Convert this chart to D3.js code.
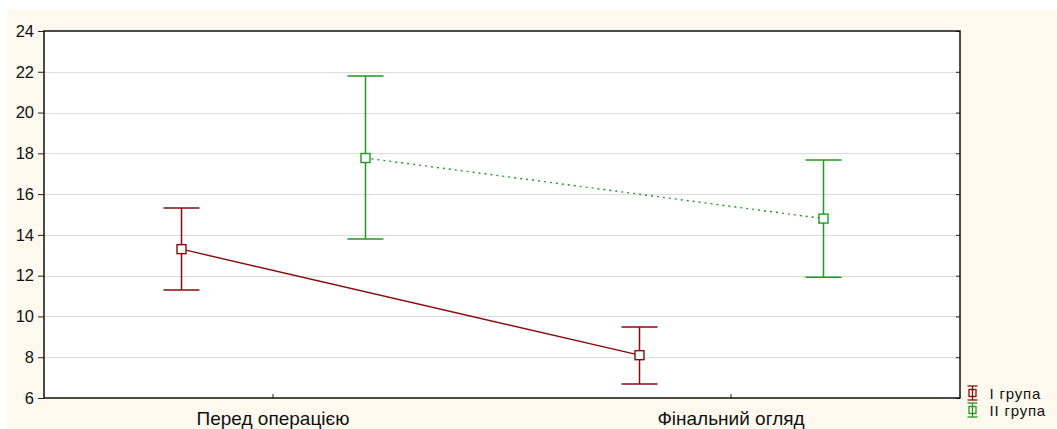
<!DOCTYPE html>
<html><head><meta charset="utf-8">
<script src="https://cdn.jsdelivr.net/npm/d3@7"></script>
<style>body{margin:0;background:#fff}svg{display:block}text{font-family:"Liberation Sans",Arial,sans-serif;fill:#111}</style>
</head><body>
<script>
const categories = ["Перед операцією", "Фінальний огляд"];
const groups = ["I група", "II група"];
const groupColors = ["#8b0a0a", "#1f9a1f"];
const means = [[13.3, 8.1], [17.77, 14.8]];
const upper = [[15.32, 9.48], [21.79, 17.67]];
const lower = [[11.3, 6.69], [13.8, 11.92]];
const yTicks = [6, 8, 10, 12, 14, 16, 18, 20, 22, 24];

const W = 1057, H = 429;
const svg = d3.select("body").append("svg").attr("width", W).attr("height", H);
svg.append("rect").attr("x", 7).attr("y", 10).attr("width", W - 7).attr("height", H - 10).attr("fill", "#fdf9ee");

const L = 44, R = 960, T = 31, B = 398;
svg.append("rect").attr("x", L).attr("y", T).attr("width", R - L).attr("height", B - T).attr("fill", "#fff");

const y = d3.scaleLinear().domain([6, 24]).range([B, T]);
const x = d3.scaleBand().domain(categories).range([L, R]);
const xg = d3.scalePoint().domain(groups).range([x.bandwidth() / 2 - 92, x.bandwidth() / 2 + 92]);

// grid
svg.append("g").selectAll("line").data(yTicks.slice(1, -1)).join("line")
  .attr("x1", L).attr("x2", R).attr("y1", d => Math.round(y(d)) + 0.5).attr("y2", d => Math.round(y(d)) + 0.5)
  .attr("stroke", "#dcdcdc").attr("stroke-width", 1);

// axes
const yAxis = d3.axisLeft(y).tickValues(yTicks).tickSize(6).tickPadding(4);
const gy = svg.append("g").attr("transform", `translate(${L},0)`).call(yAxis);
gy.select(".domain").remove();
gy.selectAll("text").style("font-size", "16.5px").attr("fill", "#111");
gy.selectAll("line").attr("stroke", "#222");
const gyr = svg.append("g").attr("transform", `translate(${R},0)`).call(d3.axisRight(y).tickValues(yTicks).tickSize(-4).tickFormat(""));
gyr.select(".domain").remove();
gyr.selectAll("line").attr("stroke", "#222");

const xAxis = d3.axisBottom(x).tickSize(-4).tickPadding(14);
const gx = svg.append("g").attr("transform", `translate(0,${B})`).call(xAxis);
gx.select(".domain").remove();
gx.selectAll("line").attr("stroke", "#222");
gx.selectAll("text").style("font-size", "19px").attr("fill", "#111");

svg.append("rect").attr("x", L).attr("y", T).attr("width", R - L).attr("height", B - T)
  .attr("fill", "none").attr("stroke", "#111").attr("stroke-width", 1.5);

// series
groups.forEach((g, gi) => {
  const col = groupColors[gi];
  const px = c => Math.round(x(c) + xg(g)) + 0.5;
  const pts = categories.map((c, ci) => ({c, m: means[gi][ci], u: upper[gi][ci], l: lower[gi][ci]}));
  const line = d3.line().x(d => px(d.c)).y(d => y(d.m));
  svg.append("path").datum(pts).attr("d", line).attr("fill", "none").attr("stroke", col)
    .attr("stroke-width", 1.4).attr("stroke-dasharray", gi === 0 ? null : "2,4");
  const eg = svg.append("g").selectAll("g").data(pts).join("g");
  eg.append("line").attr("x1", d => px(d.c)).attr("x2", d => px(d.c)).attr("y1", d => y(d.u)).attr("y2", d => y(d.l)).attr("stroke", col).attr("stroke-width", 1.5);
  eg.append("line").attr("x1", d => px(d.c) - 18).attr("x2", d => px(d.c) + 18).attr("y1", d => y(d.u)).attr("y2", d => y(d.u)).attr("stroke", col).attr("stroke-width", 1.5);
  eg.append("line").attr("x1", d => px(d.c) - 18).attr("x2", d => px(d.c) + 18).attr("y1", d => y(d.l)).attr("y2", d => y(d.l)).attr("stroke", col).attr("stroke-width", 1.5);
  eg.append("rect").attr("x", d => px(d.c) - 4.5).attr("y", d => y(d.m) - 4.5).attr("width", 9).attr("height", 9)
    .attr("fill", "#fff").attr("stroke", col).attr("stroke-width", 1.4);
});

// legend
const lg = svg.append("g").attr("transform", "translate(972.5,393)");
groups.forEach((g, gi) => {
  const col = groupColors[gi];
  const gg = lg.append("g").attr("transform", `translate(0,${gi * 17})`);
  gg.append("line").attr("x1", 0).attr("x2", 0).attr("y1", -7).attr("y2", 7).attr("stroke", col).attr("stroke-width", 1.3);
  gg.append("line").attr("x1", -5).attr("x2", 5).attr("y1", -7).attr("y2", -7).attr("stroke", col).attr("stroke-width", 1.3);
  gg.append("line").attr("x1", -5).attr("x2", 5).attr("y1", 7).attr("y2", 7).attr("stroke", col).attr("stroke-width", 1.3);
  gg.append("rect").attr("x", -3.5).attr("y", -3.5).attr("width", 7).attr("height", 7).attr("fill", "none").attr("stroke", col).attr("stroke-width", 1.3);
  gg.append("text").attr("x", 17).attr("y", 5.5).style("font-size", "15px").style("letter-spacing", "0.8px").text(g);
});
</script>
</body></html>
